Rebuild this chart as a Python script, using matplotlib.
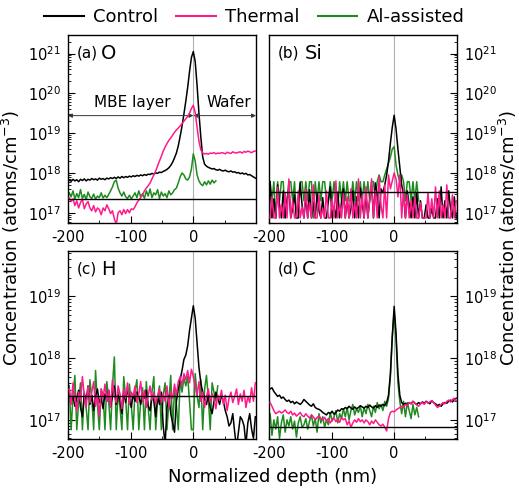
import numpy as np
import matplotlib
matplotlib.use("Agg")
import matplotlib.pyplot as plt
from matplotlib.ticker import LogLocator, FixedLocator, NullFormatter
from matplotlib.lines import Line2D

plt.rcParams['font.family'] = ['DejaVu Sans']
plt.rcParams['mathtext.default'] = 'regular'
plt.rcParams['axes.unicode_minus'] = False

### DATA: log10(concentration), depth grid -198..99 nm, 3 nm steps ###
x_grid = np.arange(-198, 100, 3)

# (a) O
a_ctrl = [17.82, 17.79, 17.84, 17.80, 17.83, 17.78, 17.84, 17.81, 17.85, 17.80,
          17.84, 17.82, 17.86, 17.83, 17.85, 17.82, 17.87, 17.84, 17.86, 17.83,
          17.87, 17.85, 17.88, 17.86, 17.89, 17.86, 17.90, 17.87, 17.91, 17.88,
          17.91, 17.89, 17.92, 17.90, 17.93, 17.91, 17.94, 17.92, 17.95, 17.93,
          17.96, 17.94, 17.97, 17.96, 17.99, 17.97, 18.00, 17.99, 18.02, 18.01,
          18.04, 18.06, 18.09, 18.13, 18.19, 18.27, 18.38, 18.50, 18.68, 18.92,
          19.18, 19.48, 19.80, 20.15, 20.55, 20.90, 21.05, 20.80, 20.20, 19.50,
          18.90, 18.40, 18.22, 18.17, 18.14, 18.12, 18.10, 18.11, 18.08, 18.07,
          18.09, 18.06, 18.05, 18.07, 18.04, 18.03, 18.05, 18.02, 18.03, 18.00,
          18.01, 17.98, 18.00, 17.97, 17.99, 17.95, 17.96, 17.93, 17.90, 17.87]
a_therm = [17.38, 17.28, 17.35, 17.18, 17.30, 17.12, 17.26, 17.34, 17.10, 17.22,
           17.28, 17.12, 17.05, 17.18, 17.02, 17.12, 17.08, 16.95, 17.12, 17.05,
           17.20, 17.10, 16.98, 17.05, 16.85, 16.70, 17.00, 17.05, 16.95, 17.08,
           16.98, 17.08, 17.00, 17.10, 17.08, 17.15, 17.25, 17.32, 17.38, 17.45,
           17.55, 17.62, 17.68, 17.75, 17.85, 17.95, 18.05, 18.18, 18.30, 18.42,
           18.55, 18.65, 18.74, 18.82, 18.88, 18.95, 19.02, 19.08, 19.13, 19.18,
           19.24, 19.30, 19.36, 19.42, 19.50, 19.62, 19.70, 19.52, 19.15, 18.80,
           18.58, 18.50, 18.48, 18.49, 18.47, 18.50, 18.49, 18.51, 18.48, 18.50,
           18.49, 18.51, 18.50, 18.48, 18.52, 18.50, 18.49, 18.53, 18.51, 18.50,
           18.52, 18.53, 18.50, 18.54, 18.52, 18.55, 18.53, 18.51, 18.54, 18.55]
a_al = [17.50, 17.40, 17.55, 17.35, 17.48, 17.38, 17.58, 17.36, 17.46, 17.33,
        17.52, 17.40, 17.36, 17.47, 17.34, 17.42, 17.38, 17.50, 17.37, 17.44,
        17.38, 17.46, 17.55, 17.65, 17.78, 17.82, 17.62, 17.50, 17.42, 17.52,
        17.40, 17.36, 17.44, 17.35, 17.42, 17.50, 17.38, 17.55, 17.40, 17.48,
        17.36, 17.55, 17.42, 17.60, 17.38, 17.50, 17.45, 17.58, 17.36, 17.52,
        17.42, 17.48, 17.38, 17.55, 17.45, 17.50, 17.58, 17.62, 17.75, 17.90,
        18.00, 17.95, 17.85, 17.82, 17.90, 18.10, 18.48, 18.30, 17.95, 17.80,
        17.72, 17.68, 17.78, 17.70, 17.80, 17.72, 17.82, 17.75, 17.80]

# (b) Si
b_ctrl = [17.78, 16.87, 17.35, 16.87, 17.70, 17.20, 16.87, 17.55, 16.87, 17.30,
          17.62, 16.87, 17.10, 17.45, 16.87, 16.87, 17.75, 17.20, 16.87, 17.40,
          16.87, 17.58, 16.87, 17.25, 16.87, 17.48, 17.05, 16.87, 17.38, 16.87,
          16.87, 17.30, 17.65, 16.87, 17.15, 16.87, 17.52, 16.87, 17.28, 17.60,
          16.87, 17.35, 16.87, 17.10, 17.55, 16.87, 17.40, 16.87, 17.62, 17.25,
          16.87, 17.48, 16.87, 17.35, 17.70, 16.87, 17.75, 17.45, 16.87, 17.60,
          17.50, 17.70, 17.95, 18.30, 18.75, 19.15, 19.45, 19.10, 18.60, 18.15,
          17.70, 17.45, 16.87, 17.55, 17.20, 16.87, 17.40, 16.87, 17.50, 16.87,
          17.30, 16.87, 16.87, 17.20, 16.87, 16.87, 17.10, 16.87, 16.87, 17.35,
          16.87, 17.65, 16.87, 17.30, 16.87, 17.55, 17.10, 16.87, 17.40, 16.87]
b_therm = [16.87, 17.40, 16.87, 16.87, 17.65, 16.87, 17.20, 16.87, 17.50, 16.87,
           17.85, 16.87, 17.30, 16.87, 16.87, 17.55, 16.87, 17.15, 16.87, 17.60,
           16.87, 17.25, 16.87, 17.70, 16.87, 16.87, 17.45, 16.87, 17.10, 16.87,
           17.55, 16.87, 16.87, 17.35, 16.87, 17.80, 16.87, 17.20, 16.87, 17.50,
           16.87, 17.40, 16.87, 17.60, 16.87, 17.25, 16.87, 17.85, 16.87, 17.45,
           16.87, 17.65, 16.87, 17.30, 17.85, 16.87, 17.55, 16.87, 17.90, 17.20,
           16.87, 17.70, 16.87, 17.95, 17.60, 17.80, 18.00, 17.85, 17.40, 17.95,
           16.87, 17.60, 16.87, 17.45, 16.87, 17.30, 16.87, 17.40, 16.87, 16.87,
           17.25, 16.87, 16.87, 16.87, 17.50, 16.87, 17.35, 16.87, 17.65, 16.87,
           17.55, 16.87, 17.20, 16.87, 17.70, 16.87, 16.87, 17.45, 16.87, 17.30]
b_al = [17.78, 17.30, 17.78, 16.87, 17.78, 17.30, 17.78, 17.78, 16.87, 17.30,
        17.78, 17.78, 17.30, 17.78, 16.87, 17.30, 17.78, 17.78, 17.30, 17.78,
        17.30, 17.78, 17.78, 16.87, 17.78, 17.30, 17.78, 17.30, 17.78, 17.78,
        17.30, 17.30, 17.78, 17.30, 17.78, 17.30, 17.10, 17.78, 17.30, 17.78,
        17.30, 17.78, 17.30, 17.30, 17.78, 17.30, 17.78, 17.30, 17.78, 17.30,
        17.78, 17.30, 17.78, 17.30, 17.78, 17.78, 17.30, 17.78, 17.95, 17.78,
        17.78, 17.95, 18.10, 18.25, 18.40, 18.60, 18.66, 18.20, 17.95, 17.78,
        17.95, 17.78, 17.30, 17.78, 17.78, 17.30, 17.78, 17.30, 17.78, 17.30]

# (c) H
c_ctrl = [17.45, 17.30, 17.38, 17.22, 17.35, 17.48, 17.20, 17.05, 17.42, 17.30,
          17.55, 17.25, 17.40, 17.15, 17.38, 17.50, 17.28, 17.35, 17.18, 17.42,
          17.30, 17.48, 17.22, 17.38, 17.55, 17.25, 17.40, 17.32, 17.10, 17.45,
          17.28, 17.50, 17.35, 17.20, 17.42, 17.30, 17.45, 17.38, 17.25, 17.40,
          17.35, 17.48, 17.22, 17.15, 17.40, 17.30, 17.05, 17.38, 17.25, 17.45,
          16.90, 16.60, 17.20, 17.40, 17.10, 16.95, 16.80, 17.30, 17.50, 17.65,
          17.80, 17.98, 18.05, 18.20, 18.45, 18.65, 18.85, 18.65, 18.25, 17.85,
          17.60, 17.45, 17.35, 17.25, 17.40, 17.20, 17.10, 17.30, 17.45, 17.35,
          17.25, 17.40, 17.30, 17.15, 17.05, 16.90, 16.95, 17.10, 16.80, 16.55,
          16.80, 17.05, 17.00, 16.90, 16.60, 16.95, 17.10, 16.85, 16.70, 17.05]
c_therm = [17.50, 17.25, 17.60, 17.35, 17.15, 17.45, 17.30, 17.70, 17.40, 17.20,
           17.55, 17.28, 17.45, 17.62, 17.22, 17.40, 17.05, 17.50, 17.35, 17.58,
           17.30, 17.48, 17.20, 17.65, 17.38, 17.28, 17.55, 17.42, 17.18, 17.50,
           17.35, 17.60, 17.25, 17.45, 17.38, 17.55, 17.28, 17.42, 17.62, 17.30,
           17.48, 17.20, 17.40, 17.55, 17.32, 17.45, 17.25, 17.38, 17.50, 17.28,
           17.42, 17.30, 17.55, 17.20, 17.45, 17.35, 17.58, 17.40, 17.62, 17.70,
           17.55, 17.75, 17.65, 17.80, 17.60, 17.82, 17.70, 17.55, 17.40, 17.62,
           17.30, 17.45, 17.20, 17.38, 17.50, 17.28, 17.42, 17.35, 17.18, 17.40,
           17.32, 17.48, 17.25, 17.40, 17.15, 17.35, 17.45, 17.28, 17.38, 17.50,
           17.25, 17.42, 17.30, 17.48, 17.20, 17.38, 17.28, 17.52, 17.30, 17.60]
c_al = [17.55, 16.84, 17.40, 17.72, 16.84, 17.30, 17.60, 16.84, 17.45, 17.20,
        16.84, 17.65, 17.35, 16.84, 17.80, 17.25, 16.84, 17.50, 17.40, 16.84,
        17.62, 17.30, 16.84, 17.55, 18.02, 16.84, 17.45, 17.20, 16.84, 17.70,
        17.35, 16.84, 17.58, 17.25, 16.84, 17.48, 17.65, 16.84, 17.30, 17.52,
        16.84, 17.62, 17.20, 16.84, 17.45, 17.70, 16.84, 17.35, 17.55, 16.84,
        17.40, 17.60, 16.84, 17.30, 17.72, 16.84, 17.50, 17.25, 16.84, 17.65,
        17.45, 17.68, 17.55, 17.70, 17.30, 16.84, 16.84, 17.75, 17.40, 17.20,
        17.65, 16.84, 17.50, 17.72, 17.35, 16.84, 17.60, 17.45, 17.30, 17.55]

# (d) C
d_ctrl = [17.50, 17.52, 17.46, 17.42, 17.38, 17.40, 17.35, 17.37, 17.33, 17.30,
          17.32, 17.28, 17.30, 17.26, 17.29, 17.27, 17.25, 17.28, 17.33, 17.30,
          17.27, 17.24, 17.22, 17.26, 17.20, 17.18, 17.17, 17.15, 17.12, 17.10,
          17.08, 17.12, 17.10, 17.14, 17.09, 17.12, 17.16, 17.14, 17.18, 17.17,
          17.20, 17.18, 17.22, 17.19, 17.17, 17.21, 17.18, 17.20, 17.23, 17.21,
          17.19, 17.22, 17.20, 17.24, 17.21, 17.19, 17.23, 17.20, 17.24, 17.22,
          17.25, 17.23, 17.28, 17.40, 17.75, 18.35, 18.84, 18.40, 17.75, 17.40,
          17.28, 17.25, 17.27, 17.24, 17.28, 17.26, 17.30, 17.27, 17.25, 17.28,
          17.26, 17.29, 17.27, 17.30, 17.28, 17.26, 17.31, 17.28, 17.26, 17.23,
          17.25, 17.22, 17.26, 17.28, 17.27, 17.30, 17.32, 17.29, 17.33, 17.35]
d_therm = [17.28, 17.22, 17.15, 17.10, 17.12, 17.14, 17.11, 17.13, 17.16, 17.12,
           17.10, 17.14, 17.08, 17.11, 17.06, 17.09, 17.12, 17.07, 17.05, 17.10,
           17.06, 17.03, 17.08, 17.05, 17.00, 17.04, 17.06, 17.02, 17.00, 17.04,
           16.98, 17.02, 16.95, 17.00, 17.03, 16.97, 17.01, 16.96, 17.04, 17.00,
           17.02, 16.92, 16.98, 16.88, 16.95, 17.00, 16.96, 17.02, 16.97, 17.00,
           16.95, 17.00, 16.97, 16.92, 16.98, 16.94, 17.00, 16.96, 16.92, 16.90,
           16.93, 16.88, 16.82, 17.02, 17.12, 17.14, 17.13, 17.16, 17.18, 17.20,
           17.22, 17.20, 17.25, 17.23, 17.28, 17.26, 17.30, 17.27, 17.24, 17.22,
           17.26, 17.28, 17.25, 17.30, 17.27, 17.29, 17.31, 17.28, 17.24, 17.20,
           17.22, 17.25, 17.28, 17.26, 17.30, 17.32, 17.29, 17.33, 17.35, 17.31]
d_al = [17.10, 16.75, 17.00, 16.85, 17.05, 16.70, 16.95, 17.08, 16.80, 17.00,
        16.90, 17.05, 16.85, 16.98, 16.72, 16.95, 17.05, 16.88, 16.92, 17.02,
        16.85, 16.98, 17.08, 16.90, 17.02, 16.80, 17.10, 16.95, 17.05, 16.88,
        17.00, 16.92, 17.12, 16.98, 17.05, 17.15, 16.95, 17.10, 17.02, 17.18,
        17.05, 17.20, 17.00, 17.15, 17.25, 17.08, 17.18, 17.12, 17.22, 17.05,
        17.20, 17.10, 17.25, 17.15, 17.05, 17.22, 17.12, 17.28, 17.18, 17.25,
        17.15, 17.30, 17.22, 17.35, 17.70, 18.35, 18.75, 18.30, 17.60, 17.30,
        17.10, 17.30, 17.05, 17.28, 17.15, 17.02, 17.25, 17.08, 17.20, 17.05]

panel_tags = ['(a)', '(b)', '(c)', '(d)']
panel_elems = ['O', 'Si', 'H', 'C']
det_limits = [17.34, 17.51, 17.39, 16.89]   # horizontal black lines (log10)
ylims = [(16.75, 21.46), (16.75, 21.46), (16.69, 19.73), (16.69, 19.73)]
series = [(a_ctrl, a_therm, a_al), (b_ctrl, b_therm, b_al),
          (c_ctrl, c_therm, c_al), (d_ctrl, d_therm, d_al)]
series_names = ['Control', 'Thermal', 'Al-assisted']
###################################

c_black = 'black'
c_pink = '#ff1a8c'
c_green = '#1f8a1f'

fig = plt.figure(figsize=(5.19, 4.96), dpi=100)
w, h = 0.3622, 0.378
rects = [[0.131, 0.551, w, h], [0.518, 0.551, w, h],
         [0.131, 0.115, w, h], [0.518, 0.115, w, h]]

for i, (ax_rect, (ctrl, therm, al)) in enumerate(zip(rects, series)):
    ax = fig.add_axes(ax_rect)
    ax.axvline(0, color='#b0b0b0', lw=0.8, zorder=0)
    ax.semilogy(x_grid[:len(al)], 10**np.array(al), color=c_green, lw=1.1, zorder=2)
    ax.semilogy(x_grid[:len(ctrl)], 10**np.array(ctrl), color=c_black, lw=1.1, zorder=3)
    ax.semilogy(x_grid[:len(therm)], 10**np.array(therm), color=c_pink, lw=1.1, zorder=4)
    ax.axhline(10**det_limits[i], color='black', lw=1.0, zorder=5)
    ax.set_xlim(-200, 100)
    ax.set_ylim(10**ylims[i][0], 10**ylims[i][1])
    ax.xaxis.set_major_locator(FixedLocator([-200, -100, 0]))
    ax.xaxis.set_minor_locator(FixedLocator([-150, -50, 50]))
    ax.yaxis.set_major_locator(LogLocator(base=10, numticks=10))
    ax.yaxis.set_minor_locator(LogLocator(base=10, subs=np.arange(2, 10), numticks=20))
    ax.yaxis.set_minor_formatter(NullFormatter())
    right = i % 2 == 1
    ax.tick_params(axis='both', which='both', direction='in', labelsize=10.5,
                   top=False, left=not right, right=right,
                   labelleft=not right, labelright=right)
    ax.tick_params(which='major', length=5, width=0.8, pad=5)
    ax.tick_params(which='minor', length=2.5, width=0.6)
    for s in ax.spines.values():
        s.set_linewidth(1.0)
    ax.text(0.048, 0.905, panel_tags[i], transform=ax.transAxes, fontsize=11, va='center')
    ax.text(0.176 if i != 1 else 0.19, 0.905, panel_elems[i], transform=ax.transAxes,
            fontsize=14, va='center')
    if i == 0:
        # MBE layer / wafer arrows
        y_arr = 10**19.44
        ax.annotate('', xy=(-200, y_arr), xytext=(0, y_arr),
                    arrowprops=dict(arrowstyle='<|-|>', lw=0.7, color='#333333',
                                    mutation_scale=6, shrinkA=0, shrinkB=0))
        ax.annotate('', xy=(0, y_arr), xytext=(100, y_arr),
                    arrowprops=dict(arrowstyle='<|-|>', lw=0.7, color='#333333',
                                    mutation_scale=6, shrinkA=0, shrinkB=0))
        ax.text(-97, 10**19.78, 'MBE layer', fontsize=11, ha='center', va='center')
        ax.text(57, 10**19.78, 'Wafer', fontsize=11, ha='center', va='center')

leg_handles = [Line2D([], [], color=c, lw=1.5) for c in (c_black, c_pink, c_green)]
fig.legend(leg_handles, series_names, loc='center', bbox_to_anchor=(0.49, 0.965),
           ncol=3, frameon=False, fontsize=13, handlelength=2.2, columnspacing=1.0,
           handletextpad=0.5)

ylabel = 'Concentration (atoms/cm$^{-3}$)'
fig.text(0.022, 0.52, ylabel, rotation=90, ha='center', va='center', fontsize=13)
fig.text(0.978, 0.52, ylabel, rotation=90, ha='center', va='center', fontsize=13)
fig.text(0.525, 0.038, 'Normalized depth (nm)', ha='center', va='center', fontsize=13)

fig.savefig('out.png', dpi=100)
